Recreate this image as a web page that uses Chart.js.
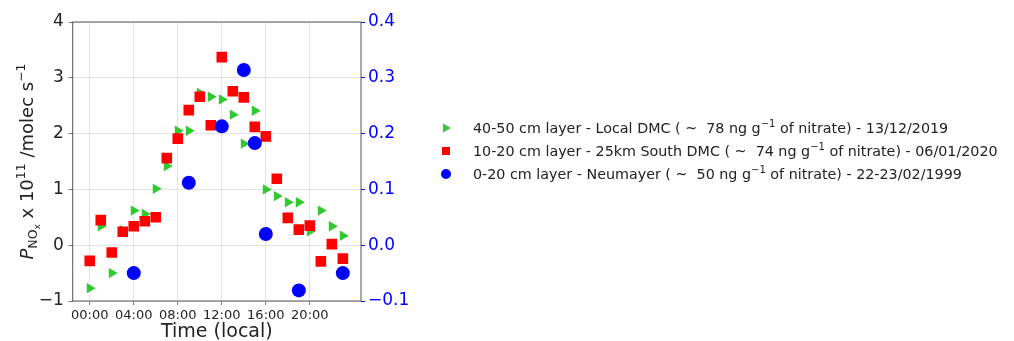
<!DOCTYPE html>
<html>
<head>
<meta charset="utf-8">
<script src="https://cdn.jsdelivr.net/npm/chart.js@4"></script>
<style>
  html, body { margin: 0; padding: 0; background: #fff; }
  #wrap { width: 1014px; height: 341px; }
</style>
</head>
<body>
<div id="wrap"><canvas id="chart" width="1014" height="341"></canvas></div>
<script>
// hours of day (local) and production rates
const hours = [0, 1, 2, 3, 4, 5, 6, 7, 8, 9, 10, 11, 12, 13, 14, 15, 16, 17, 18, 19, 20, 21, 22, 23];
const localDMC = [-0.77, 0.34, -0.50, 0.27, 0.62, 0.56, 1.01, 1.42, 2.05, 2.05, 2.73, 2.66,
                  2.61, 2.34, 1.82, 2.41, 1.00, 0.88, 0.77, 0.77, 0.25, 0.62, 0.34, 0.17];
const southDMC = [-0.28, 0.45, -0.13, 0.24, 0.34, 0.43, 0.50, 1.56, 1.91, 2.42, 2.66, 2.15,
                  3.37, 2.76, 2.65, 2.12, 1.95, 1.19, 0.49, 0.28, 0.35, -0.29, 0.02, -0.24];
const neumayerHours = [4, 9, 12, 14, 15, 16, 19, 23];
const neumayer = [-0.050, 0.112, 0.213, 0.314, 0.183, 0.020, -0.081, -0.050];

const xTicks = [0, 4, 8, 12, 16, 20];
const yTicks = [-1, 0, 1, 2, 3, 4];
const y2Ticks = [-0.1, 0, 0.1, 0.2, 0.3, 0.4];

const legendLabels = [
  ["40-50 cm layer - Local DMC ( ~  78 ng g", " of nitrate) - 13/12/2019"],
  ["10-20 cm layer - 25km South DMC ( ~  74 ng g", " of nitrate) - 06/01/2020"],
  ["0-20 cm layer - Neumayer ( ~  50 ng g", " of nitrate) - 22-23/02/1999"]
];

const GREEN = "#32c832";
const RED = "#ff0000";
const BLUE = "#0000ff";
const FONT = "DejaVu Sans";

const pts = (xs, ys) => xs.map((h, i) => ({ x: h, y: ys[i] }));
const minus = v => (v < 0 ? "\u2212" + Math.abs(v) : String(v));

// draw a line of text made of pieces with their own size / vertical shift
function drawRich(ctx, x, y, parts, align) {
  let total = 0;
  parts.forEach(p => {
    ctx.font = (p.italic ? "italic " : "") + p.size + "px '" + FONT + "'";
    p.w = ctx.measureText(p.t).width;
    total += p.w;
  });
  let cx = align === "center" ? x - total / 2 : x;
  parts.forEach(p => {
    ctx.font = (p.italic ? "italic " : "") + p.size + "px '" + FONT + "'";
    ctx.fillText(p.t, cx, y + (p.dy || 0));
    cx += p.w;
  });
}

const decor = {
  id: "decor",
  beforeDatasetsDraw(chart) {
    const { ctx, chartArea: a } = chart;
    ctx.save();
    ctx.strokeStyle = "#555";
    ctx.lineWidth = 1;
    ctx.strokeRect(a.left, a.top, a.right - a.left, a.bottom - a.top);
    ctx.restore();
  },
  afterDraw(chart) {
    const { ctx, chartArea: a } = chart;
    ctx.save();
    ctx.fillStyle = "#222";
    ctx.textBaseline = "alphabetic";
    // y axis title
    ctx.translate(33, (a.top + a.bottom) / 2);
    ctx.rotate(-Math.PI / 2);
    drawRich(ctx, 0, 0, [
      { t: "P", size: 18, italic: true },
      { t: "NO", size: 12.5, dy: 4 },
      { t: "x", size: 9, dy: 7 },
      { t: " x 10", size: 18 },
      { t: "11", size: 12.5, dy: -8 },
      { t: " /molec s", size: 18 },
      { t: "\u22121", size: 12.5, dy: -8 }
    ], "center");
    ctx.restore();

    // legend
    ctx.save();
    const rows = [128, 151, 174];
    const colors = [GREEN, RED, BLUE];
    rows.forEach((ry, i) => {
      ctx.fillStyle = colors[i];
      ctx.beginPath();
      if (i === 0) {
        ctx.moveTo(443, ry - 4.5);
        ctx.lineTo(451, ry);
        ctx.lineTo(443, ry + 4.5);
        ctx.closePath();
      } else if (i === 1) {
        ctx.rect(442, ry - 4, 8, 8);
      } else {
        ctx.arc(446, ry, 5, 0, Math.PI * 2);
      }
      ctx.fill();
      ctx.fillStyle = "#222";
      drawRich(ctx, 473, ry + 5, [
        { t: legendLabels[i][0], size: 14.3 },
        { t: "\u22121", size: 10, dy: -6 },
        { t: legendLabels[i][1], size: 14.3 }
      ], "left");
    });
    ctx.restore();
  }
};

const gridOpts = {
  color: "#dcdcdc",
  lineWidth: 0.8,
  borderDash: [3, 3],
  tickColor: "#555",
  tickLength: 4,
  tickBorderDash: []
};

new Chart(document.getElementById("chart").getContext("2d"), {
  type: "scatter",
  data: {
    datasets: [
      {
        label: "Local DMC",
        data: pts(hours, localDMC),
        yAxisID: "y",
        pointStyle: "triangle",
        rotation: 90,
        radius: 6,
        backgroundColor: GREEN,
        borderColor: GREEN,
        borderWidth: 0,
        order: 3
      },
      {
        label: "South DMC",
        data: pts(hours, southDMC),
        yAxisID: "y",
        pointStyle: "rect",
        radius: 7.5,
        backgroundColor: RED,
        borderColor: RED,
        borderWidth: 0,
        order: 2
      },
      {
        label: "Neumayer",
        data: pts(neumayerHours, neumayer),
        yAxisID: "y2",
        pointStyle: "circle",
        radius: 7,
        backgroundColor: BLUE,
        borderColor: BLUE,
        borderWidth: 0,
        order: 1
      }
    ]
  },
  options: {
    responsive: false,
    animation: false,
    layout: { padding: { left: 0, right: 593, top: 22, bottom: 0 } },
    plugins: { legend: { display: false }, tooltip: { enabled: false } },
    scales: {
      x: {
        type: "linear",
        min: -1.55,
        max: 24.65,
        grid: gridOpts,
        border: { display: false },
        afterBuildTicks: s => { s.ticks = xTicks.map(v => ({ value: v })); },
        afterFit: s => { s.height = 40; },
        ticks: {
          color: "#222",
          padding: 3,
          maxRotation: 0,
          font: { family: FONT, size: 13 },
          callback: v => String(v).padStart(2, "0") + ":00"
        },
        title: {
          display: true,
          text: "Time (local)",
          color: "#222",
          padding: { top: 0, bottom: -2 },
          font: { family: FONT, size: 19 }
        }
      },
      y: {
        position: "left",
        min: -1,
        max: 4,
        grid: gridOpts,
        border: { display: false },
        afterBuildTicks: s => { s.ticks = yTicks.map(v => ({ value: v })); },
        afterFit: s => { s.width = 72.7; },
        ticks: {
          color: "#222",
          padding: 5,
          font: { family: FONT, size: 17 },
          callback: v => minus(v)
        }
      },
      y2: {
        position: "right",
        min: -0.1,
        max: 0.4,
        grid: { drawOnChartArea: false, tickColor: BLUE, tickLength: 4 },
        border: { display: false },
        afterBuildTicks: s => { s.ticks = y2Ticks.map(v => ({ value: v })); },
        afterFit: s => { s.width = 60; },
        ticks: {
          color: BLUE,
          padding: 3,
          font: { family: FONT, size: 17 },
          callback: v => minus(Number(v).toFixed(1)).replace("\u2212-", "\u2212")
        }
      }
    }
  },
  plugins: [decor]
});
</script>
</body>
</html>
